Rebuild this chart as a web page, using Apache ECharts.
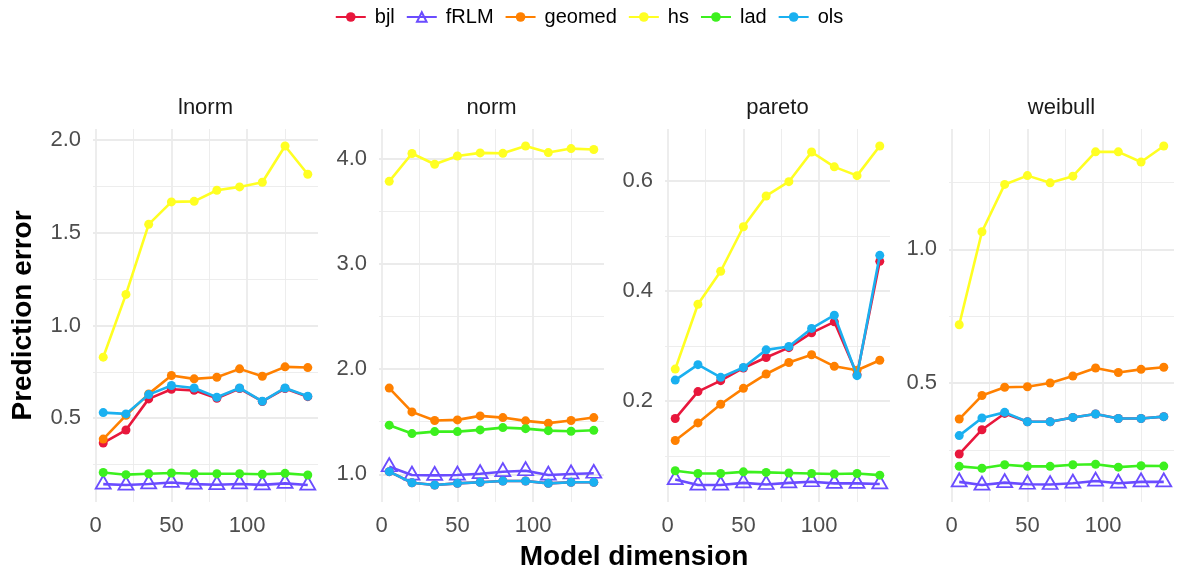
<!DOCTYPE html>
<html>
<head>
<meta charset="utf-8">
<title>Prediction error by model dimension</title>
<script src="https://cdn.jsdelivr.net/npm/echarts@6/dist/echarts.min.js"></script>
<style>
  html, body { margin: 0; padding: 0; background: #ffffff; }
  #chart { width: 1178px; height: 574px; }
</style>
</head>
<body>
<div id="chart"></div>
<script>
// Model dimensions evaluated (shared x values for every panel)
const dims = [5, 20, 35, 50, 65, 80, 95, 110, 125, 140];

// Panels (error distributions) and methods
const panelNames = ['lnorm', 'norm', 'pareto', 'weibull'];
const methodNames = ['bjl', 'fRLM', 'geomed', 'hs', 'lad', 'ols'];
const methodColors = ['#E8173C', '#6A4CFF', '#FF8000', '#FFFF22', '#3CF01E', '#1AB0F0'];

// lnorm
const lnormBjl    = [0.366, 0.436, 0.604, 0.656, 0.650, 0.607, 0.660, 0.590, 0.660, 0.616];
const lnormFrlm   = [0.144, 0.139, 0.145, 0.153, 0.144, 0.141, 0.145, 0.140, 0.148, 0.139];
const lnormGeomed = [0.387, 0.515, 0.631, 0.730, 0.712, 0.721, 0.766, 0.726, 0.777, 0.773];
const lnormHs     = [0.829, 1.168, 1.546, 1.667, 1.670, 1.730, 1.748, 1.773, 1.969, 1.816];
const lnormLad    = [0.207, 0.195, 0.200, 0.204, 0.200, 0.200, 0.200, 0.197, 0.202, 0.193];
const lnormOls    = [0.530, 0.523, 0.627, 0.676, 0.663, 0.613, 0.663, 0.591, 0.663, 0.618];

// norm
const normBjl    = [1.025, 0.920, 0.898, 0.914, 0.924, 0.936, 0.936, 0.914, 0.924, 0.924];
const normFrlm   = [1.072, 0.993, 0.990, 0.993, 1.006, 1.025, 1.034, 0.993, 1.003, 1.010];
const normGeomed = [1.819, 1.593, 1.511, 1.517, 1.555, 1.539, 1.508, 1.486, 1.511, 1.539];
const normHs     = [3.784, 4.048, 3.946, 4.025, 4.054, 4.050, 4.120, 4.057, 4.095, 4.086];
const normLad    = [1.467, 1.387, 1.406, 1.406, 1.422, 1.444, 1.434, 1.415, 1.409, 1.418];
const normOls    = [1.025, 0.920, 0.898, 0.914, 0.924, 0.936, 0.936, 0.914, 0.924, 0.924];

// pareto
const paretoBjl    = [0.168, 0.217, 0.237, 0.260, 0.279, 0.297, 0.324, 0.344, 0.248, 0.454];
const paretoFrlm   = [0.057, 0.047, 0.047, 0.051, 0.048, 0.051, 0.053, 0.050, 0.050, 0.049];
const paretoGeomed = [0.128, 0.160, 0.194, 0.223, 0.249, 0.270, 0.284, 0.263, 0.256, 0.274];
const paretoHs     = [0.258, 0.376, 0.436, 0.517, 0.573, 0.599, 0.653, 0.626, 0.610, 0.664];
const paretoLad    = [0.073, 0.068, 0.068, 0.071, 0.070, 0.069, 0.068, 0.067, 0.068, 0.065];
const paretoOls    = [0.238, 0.266, 0.243, 0.261, 0.293, 0.299, 0.332, 0.356, 0.246, 0.465];

// weibull
const weibullBjl    = [0.234, 0.325, 0.386, 0.355, 0.355, 0.371, 0.384, 0.367, 0.367, 0.374];
const weibullFrlm   = [0.130, 0.118, 0.127, 0.121, 0.120, 0.125, 0.133, 0.125, 0.130, 0.130];
const weibullGeomed = [0.365, 0.453, 0.484, 0.486, 0.500, 0.526, 0.556, 0.539, 0.551, 0.559];
const weibullHs     = [0.718, 1.066, 1.243, 1.276, 1.249, 1.274, 1.365, 1.365, 1.327, 1.387];
const weibullLad    = [0.188, 0.181, 0.194, 0.188, 0.188, 0.194, 0.196, 0.185, 0.190, 0.189];
const weibullOls    = [0.303, 0.369, 0.390, 0.355, 0.355, 0.371, 0.384, 0.367, 0.367, 0.374];

// Axis ticks
const xMajorTicks = [0, 50, 100];
const xMinorTicks = [25, 75, 125];
const lnormMajor   = [0.5, 1.0, 1.5, 2.0];
const lnormMinor   = [0.25, 0.75, 1.25, 1.75];
const normMajor    = [1.0, 2.0, 3.0, 4.0];
const normMinor    = [1.5, 2.5, 3.5];
const paretoMajor  = [0.2, 0.4, 0.6];
const paretoMinor  = [0.1, 0.3, 0.5];
const weibullMajor = [0.5, 1.0];
const weibullMinor = [0.25, 0.75, 1.25];

const panelData = [
  [lnormBjl, lnormFrlm, lnormGeomed, lnormHs, lnormLad, lnormOls],
  [normBjl, normFrlm, normGeomed, normHs, normLad, normOls],
  [paretoBjl, paretoFrlm, paretoGeomed, paretoHs, paretoLad, paretoOls],
  [weibullBjl, weibullFrlm, weibullGeomed, weibullHs, weibullLad, weibullOls]
];
const panelMajor = [lnormMajor, normMajor, paretoMajor, weibullMajor];
const panelMinor = [lnormMinor, normMinor, paretoMinor, weibullMinor];

// Layout of the facet panels
const panelLeft = [93, 379, 665, 949];
const panelWidth = 225;
const panelTop = 129;
const panelHeight = 373;

const gridColor = '#EBEBEB';
const tickColor = '#4D4D4D';
const FONT = 'Liberation Sans, Arial, Helvetica, sans-serif';

// 5% padding around the data range, as in the faceted original
function padRange(values) {
  const lo = Math.min.apply(null, values);
  const hi = Math.max.apply(null, values);
  const pad = (hi - lo) * 0.05;
  return [lo - pad, hi + pad];
}
const xRange = padRange(dims);

const grids = [], xAxes = [], yAxes = [], titles = [], series = [];

panelNames.forEach(function (pname, p) {
  grids.push({ left: panelLeft[p], top: panelTop, width: panelWidth, height: panelHeight, containLabel: false });
  const allVals = [].concat.apply([], panelData[p]);
  const yRange = padRange(allVals);

  // major x axis with labels
  xAxes.push({
    type: 'value', gridIndex: p, min: xRange[0], max: xRange[1],
    axisLine: { show: false },
    axisTick: { show: false, customValues: xMajorTicks },
    axisLabel: { customValues: xMajorTicks, color: tickColor, fontSize: 22, fontFamily: FONT, margin: 13,
                 formatter: function (v) { return String(Math.round(v)); } },
    splitLine: { show: true, lineStyle: { color: gridColor, width: 1.8 } }
  });
  // minor x grid
  xAxes.push({
    type: 'value', gridIndex: p, min: xRange[0], max: xRange[1],
    axisLine: { show: false },
    axisTick: { show: false, customValues: xMinorTicks },
    axisLabel: { show: false, customValues: xMinorTicks },
    splitLine: { show: true, lineStyle: { color: gridColor, width: 0.9 } }
  });
  // major y axis with labels
  const yMajor = {
    type: 'value', gridIndex: p, min: yRange[0], max: yRange[1],
    axisLine: { show: false },
    axisTick: { show: false, customValues: panelMajor[p] },
    axisLabel: { customValues: panelMajor[p], color: tickColor, fontSize: 22, fontFamily: FONT, margin: 12,
                 formatter: function (v) { return v.toFixed(1); } },
    splitLine: { show: true, lineStyle: { color: gridColor, width: 1.8 } }
  };
  if (p === 0) {
    yMajor.name = 'Prediction error';
    yMajor.nameLocation = 'middle';
    yMajor.nameGap = 56;
    yMajor.nameTextStyle = { color: '#000', fontSize: 28, fontWeight: 'bold', fontFamily: FONT };
  }
  yAxes.push(yMajor);
  // minor y grid
  yAxes.push({
    type: 'value', gridIndex: p, min: yRange[0], max: yRange[1],
    axisLine: { show: false },
    axisTick: { show: false, customValues: panelMinor[p] },
    axisLabel: { show: false, customValues: panelMinor[p] },
    splitLine: { show: true, lineStyle: { color: gridColor, width: 0.9 } }
  });

  titles.push({
    text: pname, left: panelLeft[p] + panelWidth / 2, top: 97, textAlign: 'center', padding: 0,
    textStyle: { color: '#1A1A1A', fontSize: 22, fontWeight: 'normal', fontFamily: FONT }
  });

  methodNames.forEach(function (m, k) {
    const isTri = (m === 'fRLM');
    series.push({
      name: m, type: 'line', xAxisIndex: 2 * p, yAxisIndex: 2 * p,
      data: dims.map(function (d, i) { return [d, panelData[p][k][i]]; }),
      symbol: isTri ? 'triangle' : 'circle',
      symbolSize: isTri ? [15, 13] : 9,
      symbolOffset: isTri ? [0, -2] : [0, 0],
      showSymbol: true,
      lineStyle: { color: methodColors[k], width: 2.6 },
      itemStyle: isTri
        ? { color: 'rgba(255,255,255,0)', borderColor: methodColors[k], borderWidth: 1.8 }
        : { color: methodColors[k], borderWidth: 0 },
      emphasis: { disabled: true },
      animation: false,
      z: 2 + k
    });
  });
});

titles.push({
  text: 'Model dimension', left: 634, top: 543, textAlign: 'center', padding: 0,
  textStyle: { color: '#000', fontSize: 28, fontWeight: 'bold', fontFamily: FONT }
});

const chart = echarts.init(document.getElementById('chart'), null, { renderer: 'canvas' });
chart.setOption({
  backgroundColor: '#ffffff',
  animation: false,
  title: titles,
  legend: {
    top: 2, left: 'center', itemWidth: 30, itemHeight: 12, itemGap: 11,
    data: methodNames,
    textStyle: { color: '#000', fontSize: 20, fontFamily: FONT, padding: [0, 0, 0, 4] }
  },
  grid: grids,
  xAxis: xAxes,
  yAxis: yAxes,
  series: series
});
</script>
</body>
</html>
